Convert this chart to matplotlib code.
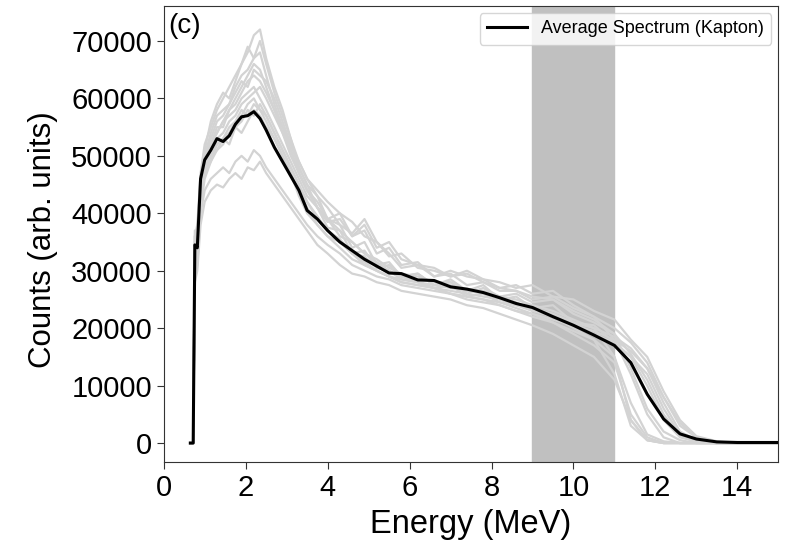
import numpy as np
import matplotlib
matplotlib.use("Agg")
import matplotlib.pyplot as plt

plt.rcParams["font.family"] = ["Liberation Sans", "DejaVu Sans"]

# energy grid (MeV), shared by all spectra
energy = [0.65, 0.72, 0.76, 0.82, 0.9, 1.0, 1.15, 1.3, 1.45, 1.6, 1.75, 1.9, 2.05, 2.2, 2.35,
          2.5, 2.7, 2.9, 3.1, 3.3, 3.5, 3.75, 4.0, 4.3, 4.6, 4.9, 5.2, 5.5, 5.8, 6.2, 6.6, 7.0,
          7.4, 7.8, 8.2, 8.6, 9.0, 9.5, 10.0, 10.5, 11.0, 11.4, 11.8, 12.2, 12.6, 13.0, 13.5,
          14.0, 15.0]

# counts in thousands
average = [0, 0, 34.5, 34, 46, 49.3, 51, 53, 52.5, 53.5, 55.5, 56.8, 57, 57.7, 56.5, 54.5, 51.5,
           49, 46.5, 44, 40.5, 39, 37, 35, 33.5, 32, 30.8, 29.6, 29.5, 28.4, 28.3, 27.2, 26.8,
           26.2, 25.3, 24.3, 23.6, 22, 20.5, 18.8, 17, 14, 8.5, 4.2, 1.6, 0.7, 0.2, 0.1, 0.1]

shot_01 = [0, 0, 36, 38, 47, 52, 55, 58, 60, 62, 64, 66, 68, 71, 72, 67, 62, 58, 53, 48, 45,
           43, 39, 38, 34, 35, 31, 31.5, 29, 29.5, 27.5, 28.5, 26.5, 27.5, 25, 25.5, 23.5, 24,
           21, 20.5, 17.5, 15, 10, 4, 1, 0.3, 0, 0, 0]
shot_02 = [0, 0, 28, 30, 38, 42, 44, 45, 44.5, 46, 47, 46, 48, 47.5, 49, 47, 45, 43, 41, 39, 37,
           34.5, 33, 31, 29.5, 29, 28, 27.5, 26.5, 26, 25.5, 25, 24, 23.5, 22.5, 21.5, 20.5, 19,
           17, 15, 11, 4, 0.5, 0, 0, 0, 0, 0, 0]
shot_03 = [0, 0, 33, 35, 44, 50, 53, 56, 57, 59, 61, 63, 62, 65, 64, 63, 60, 56, 52, 49, 46,
           43, 41, 38, 36.5, 39, 35, 33, 30.5, 31, 29, 29.5, 27.5, 28, 26.5, 26.5, 25, 25.5,
           23.5, 22, 20, 17.5, 14, 8, 3, 1, 0.2, 0, 0]
shot_04 = [0, 0, 30, 32, 42, 47, 50, 52, 53, 54, 56, 57, 59, 60, 58, 56, 53, 50, 47, 44, 41, 38,
           36, 34, 32, 31, 30, 29, 28, 27.5, 27, 26, 25.5, 25, 24, 23, 22, 21, 19.5, 18, 12, 3,
           0.5, 0, 0, 0, 0, 0, 0]
shot_05 = [0, 0, 35, 37, 45, 48, 50, 51, 52, 54, 55, 54, 56, 58, 57, 55, 53, 50, 47, 43, 40, 38,
           36, 35, 33, 31.5, 30, 29, 28.5, 28, 27, 26.5, 26, 25.5, 25, 24, 23.5, 22.5, 21, 19,
           17.5, 15, 12, 6, 1.5, 0.3, 0, 0, 0]
shot_06 = [0, 0, 37, 36, 46, 51, 56, 59, 61, 60, 63, 66, 69, 67, 68, 64, 59, 55, 51, 47, 44,
           42, 39, 40, 36, 37, 33, 34, 31, 31.5, 29, 30, 29, 28.5, 27, 27.5, 26, 26.5, 24, 22,
           18, 12, 5, 1, 0, 0, 0, 0, 0]
shot_07 = [0, 0, 29, 31, 40, 44, 46, 47, 48, 47, 49, 50, 49, 51, 50, 48, 46, 44, 42, 40, 38, 36,
           34.5, 33, 31, 30, 29, 28.5, 27.5, 27, 26.5, 26, 25, 24.5, 24, 23, 22.5, 21.5, 20.5,
           19.5, 18, 16, 13, 7, 2, 0.5, 0, 0, 0]
shot_08 = [0, 0, 32, 34, 43, 49, 52, 54, 56, 57, 58, 60, 61, 62, 60, 58, 55, 52, 49, 46, 43,
           41, 38.5, 39, 36, 38, 34, 35, 32, 31, 30.5, 29, 29.5, 28, 27, 26.5, 25.5, 25, 23,
           21.5, 19, 13, 6, 2, 0.5, 0, 0, 0, 0]
shot_09 = [0, 0, 34, 33, 44, 48, 51, 53, 54, 56, 57, 59, 60, 61, 62, 60, 57, 54, 50, 47, 44, 41,
           39, 37, 35, 33, 31.5, 30, 29, 28, 27.5, 27, 26.5, 26, 25.5, 24.5, 23, 22, 20, 18, 15,
           7, 1.5, 0.3, 0, 0, 0, 0, 0]
shot_10 = [0, 0, 31, 35, 45, 49, 52, 55, 55, 58, 60, 62, 64, 66, 65, 62, 58, 55, 52, 48, 45,
           41, 37.5, 37, 33, 33.5, 30.5, 31, 29, 29.5, 27.5, 28, 26, 27, 25.5, 26, 24.5, 25,
           22.5, 21, 19, 15.5, 11, 5, 1.2, 0.2, 0, 0, 0]
shot_11 = [0, 0, 33, 36, 44, 47, 49, 52, 53, 55, 56, 58, 57, 59, 58, 57, 54, 51, 48, 45, 42,
           39.5, 37, 35, 33, 31, 30, 29, 28, 27.5, 27, 26, 25.5, 25, 24.5, 23.5, 22.5, 21, 19,
           17, 14, 5, 1, 0, 0, 0, 0, 0, 0]
shot_12 = [0, 0, 36, 37, 46, 50, 54, 57, 58, 59, 62, 64, 65, 67, 70, 66, 61, 57, 53, 49, 46,
           44, 42, 40, 38.5, 36, 35, 32.5, 33, 30.5, 30, 29, 30, 28.5, 28, 27, 27.5, 25.5, 25,
           23, 21.5, 18, 15, 9, 4, 1.2, 0.3, 0, 0]
shot_13 = [0, 0, 30, 33, 41, 46, 49, 51, 53, 52, 55, 56, 58, 57, 59, 57, 54, 51, 48, 45, 42,
           39, 37, 35.5, 33, 32.5, 30.5, 30, 28.5, 28, 27, 27.5, 25.5, 26, 24.5, 24, 23, 22.5,
           21, 20, 15, 4, 0.5, 0, 0, 0, 0, 0, 0]
shot_14 = [0, 0, 34, 35, 43, 48, 52, 54, 56, 58, 59, 61, 63, 64, 63, 61, 58, 54, 51, 47, 44,
           41, 39, 36, 35, 33, 32, 30.5, 29.5, 29, 28, 28, 26.5, 26.5, 25.5, 25, 24, 23, 21.5,
           20, 18.5, 16.5, 13, 8, 3.5, 1, 0.2, 0, 0]

shots = [shot_01, shot_02, shot_03, shot_04, shot_05, shot_06, shot_07,
         shot_08, shot_09, shot_10, shot_11, shot_12, shot_13, shot_14]

fig = plt.figure(figsize=(7.87, 5.41), dpi=100)
ax = fig.add_axes([0.208, 0.146, 0.781, 0.843])

ax.axvspan(9, 11, color="#c0c0c0", zorder=0)

for s in shots:
    ax.plot(energy, np.array(s) * 1000, color="#d3d3d3", lw=1.6, zorder=1)

ax.plot(energy, np.array(average) * 1000, color="black", lw=2.2, zorder=3,
        label="Average Spectrum (Kapton)")

ax.set_xlim(0, 15)
ax.set_ylim(-3300, 76100)
ax.set_xticks(range(0, 15, 2))
ax.set_yticks(range(0, 70001, 10000))
ax.tick_params(labelsize=21, length=5, color="#333333")
for sp in ax.spines.values():
    sp.set_color("#333333")

ax.set_xlabel("Energy (MeV)", fontsize=23.5, labelpad=5)
ax.set_ylabel("Counts (arb. units)", fontsize=22.5)
ax.yaxis.set_label_coords(-0.172, 0.487)
ax.text(0.008, 0.985, "(c)", transform=ax.transAxes, fontsize=20, va="top", ha="left")

ax.legend(loc="upper right", fontsize=13, handlelength=2.2, borderaxespad=0.4)

fig.savefig("out.png", dpi=100)
